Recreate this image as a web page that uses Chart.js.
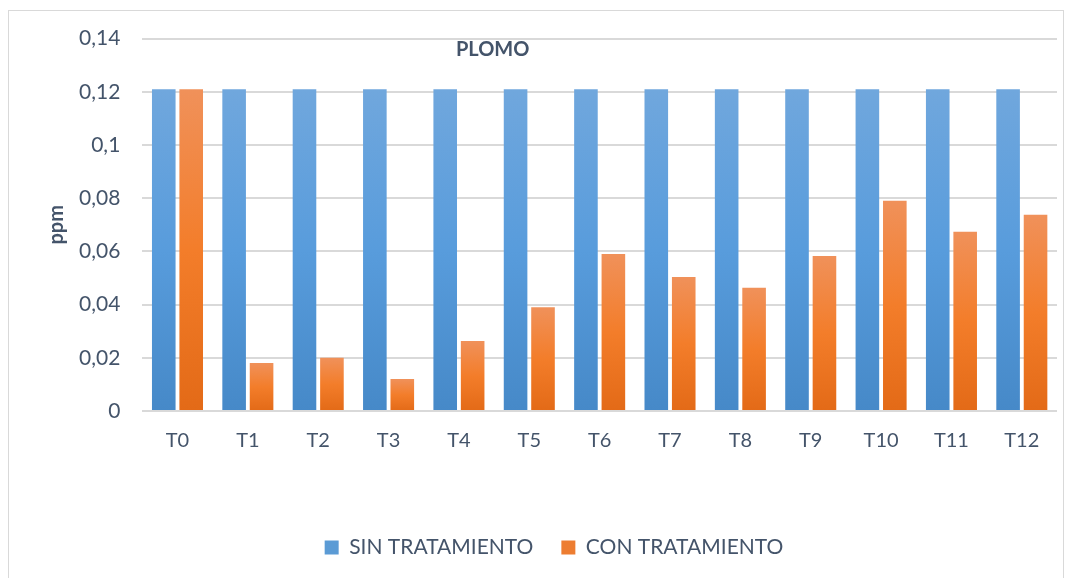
<!DOCTYPE html>
<html>
<head>
<meta charset="utf-8">
<script src="https://cdn.jsdelivr.net/npm/chart.js@4"></script>
<style>
  body { margin: 0; background: #fff; overflow: hidden; }
  #frame {
    position: absolute; left: 8px; top: 10px;
    width: 1054px; height: 570px;
    border: 1px solid #d9d9d9; border-bottom: none;
  }
  #wrap {
    position: absolute; left: 9px; top: 4px;
    width: 1054px; height: 576px;
  }
</style>
</head>
<body>
<div id="frame"></div>
<div id="wrap"><canvas id="barChart"></canvas></div>
<script>
"use strict"

// datos
const categories = ['T0','T1','T2','T3','T4','T5','T6','T7','T8','T9','T10','T11','T12'];
const sinTratamiento = [0.121,0.121,0.121,0.121,0.121,0.121,0.121,0.121,0.121,0.121,0.121,0.121,0.121];
const conTratamiento = [0.121,0.018,0.020,0.012,0.0263,0.039,0.059,0.0504,0.0463,0.0583,0.079,0.0674,0.0738];
const yTicks = [0,0.02,0.04,0.06,0.08,0.1,0.12,0.14];

const textColor = '#44546a';
const fontName = 'Lato, "Open Sans", sans-serif';

// degradado vertical por barra
function barGradient(top, mid, bottom) {
  return function(ctx) {
    const chart = ctx.chart;
    const area = chart.chartArea;
    if (!area || ctx.dataIndex === undefined) return bottom;
    const v = ctx.dataset.data[ctx.dataIndex];
    const yTop = chart.scales.y.getPixelForValue(v);
    const yBot = chart.scales.y.getPixelForValue(0);
    const g = chart.ctx.createLinearGradient(0, yTop, 0, yBot);
    g.addColorStop(0, top);
    g.addColorStop(0.5, mid);
    g.addColorStop(1, bottom);
    return g;
  };
}

// titulo PLOMO dentro del area del grafico
const plomoTitle = {
  id: 'plomoTitle',
  afterLayout(chart) {
    // la leyenda del original esta algo corrida a la derecha
    chart.legend.left += 21;
    chart.legend.right += 21;
  },
  afterDraw(chart) {
    const a = chart.chartArea;
    const c = chart.ctx;
    c.save();
    c.font = 'bold 20px ' + fontName;
    c.fillStyle = textColor;
    c.textAlign = 'center';
    c.textBaseline = 'middle';
    c.fillText('PLOMO', a.left + (a.right - a.left) * 0.383, a.top + 11);
    c.restore();
  }
};

const canvas = document.getElementById('barChart');
const ctx = canvas.getContext('2d');

new Chart(ctx, {
  type: 'bar',
  data: {
    labels: categories,
    datasets: [{
      label: 'SIN TRATAMIENTO',
      data: sinTratamiento,
      backgroundColor: barGradient('#70a7dd', '#589cdc', '#4689c8'),
      borderWidth: 0
    }, {
      label: 'CON TRATAMIENTO',
      data: conTratamiento,
      backgroundColor: barGradient('#f0915a', '#f37d2a', '#e36a17'),
      borderWidth: 0
    }]
  },
  options: {
    responsive: true,
    maintainAspectRatio: false,
    animation: false,
    barPercentage: 0.86,
    categoryPercentage: 0.78,
    layout: { padding: { top: 15, right: 6, left: 0, bottom: 12 } },
    plugins: {
      tooltip: { enabled: false },
      legend: {
        position: 'bottom',
        labels: {
          color: textColor,
          font: { family: fontName, size: 21 },
          boxWidth: 14,
          boxHeight: 14,
          padding: 28,
          generateLabels(chart) {
            const cols = ['#5b9bd5', '#ed7d31'];
            return chart.data.datasets.map((ds, i) => ({
              text: ds.label, fillStyle: cols[i], strokeStyle: cols[i],
              lineWidth: 0, datasetIndex: i, fontColor: textColor
            }));
          }
        }
      }
    },
    scales: {
      x: {
        grid: { display: false },
        border: { display: false },
        ticks: { color: textColor, font: { family: fontName, size: 20 }, padding: 10 },
        afterFit(scale) { scale.height += 46; }
      },
      y: {
        min: 0,
        max: 0.14,
        afterBuildTicks(scale) { scale.ticks = yTicks.map(v => ({ value: v })); },
        grid: { color: '#d9d9d9', lineWidth: 2, drawTicks: false },
        border: { display: false },
        ticks: {
          color: textColor,
          font: { family: fontName, size: 21 },
          padding: 22,
          callback: v => String(v).replace('.', ',')
        },
        title: {
          display: true,
          text: 'ppm',
          color: textColor,
          font: { family: fontName, size: 20, weight: 'bold' },
          padding: { top: 36, bottom: -12 }
        }
      }
    }
  },
  plugins: [plomoTitle]
});
</script>
</body>
</html>
